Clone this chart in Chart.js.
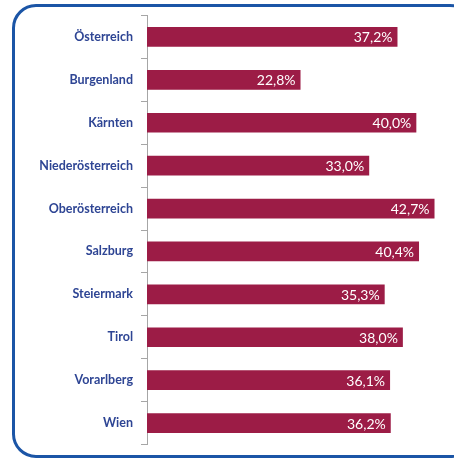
<!DOCTYPE html>
<html>
<head>
<meta charset="utf-8">
<script src="https://cdn.jsdelivr.net/npm/chart.js@4.4.1/dist/chart.umd.min.js"></script>
<style>
  html, body { margin: 0; padding: 0; background: #fff; overflow: hidden; }
  #wrap { position: relative; width: 454px; height: 460px; }
  #frame {
    position: absolute; left: 12px; top: 4px; width: 462px; height: 454px;
    border: 3px solid #1b55a6; border-radius: 24px; box-sizing: border-box;
  }
  #box { position: absolute; left: 0; top: 0; width: 454px; height: 460px; }
</style>
</head>
<body>
<div id="wrap">
  <div id="frame"></div>
  <div id="box"><canvas id="regionChart"></canvas></div>
</div>
<script>
// categories and values
const regions = ['Österreich', 'Burgenland', 'Kärnten', 'Niederösterreich', 'Oberösterreich',
  'Salzburg', 'Steiermark', 'Tirol', 'Vorarlberg', 'Wien'];
const shares = [37.2, 22.8, 40.0, 33.0, 42.7, 40.4, 35.3, 38.0, 36.1, 36.2];
const xMin = 0;
const xMax = 45;

// draw the value labels inside the end of each bar
const valueLabels = {
  id: 'valueLabels',
  afterDatasetsDraw(chart) {
    const ctx = chart.ctx;
    const meta = chart.getDatasetMeta(0);
    ctx.save();
    ctx.font = '14px Lato';
    ctx.fillStyle = '#ffffff';
    ctx.textAlign = 'right';
    ctx.textBaseline = 'middle';
    meta.data.forEach((bar, i) => {
      const txt = shares[i].toFixed(1).replace('.', ',') + '%';
      ctx.fillText(txt, bar.x - 5, bar.y + 1);
    });
    ctx.restore();
  }
};

window.onload = function () {
  const ctx = document.getElementById('regionChart').getContext('2d');
  new Chart(ctx, {
    type: 'bar',
    data: {
      labels: regions,
      datasets: [{
        data: shares,
        backgroundColor: '#9c1c46',
        barPercentage: 0.46,
        categoryPercentage: 1
      }]
    },
    options: {
      indexAxis: 'y',
      responsive: true,
      maintainAspectRatio: false,
      animation: false,
      layout: { padding: { left: 0, right: 4, top: 14, bottom: 10 } },
      plugins: {
        legend: { display: false },
        tooltip: { enabled: false }
      },
      scales: {
        x: {
          display: false,
          min: xMin,
          max: xMax
        },
        y: {
          afterFit(scale) { scale.width = 147; },
          border: { display: true, color: '#a6a6a6', width: 1 },
          grid: {
            offset: true,
            drawOnChartArea: false,
            color: '#a6a6a6',
            tickLength: 6
          },
          ticks: {
            padding: 8,
            color: '#2e4594',
            font: { family: 'Lato', size: 12.5, weight: 'bold' }
          }
        }
      }
    },
    plugins: [valueLabels]
  });
};
</script>
</body>
</html>
